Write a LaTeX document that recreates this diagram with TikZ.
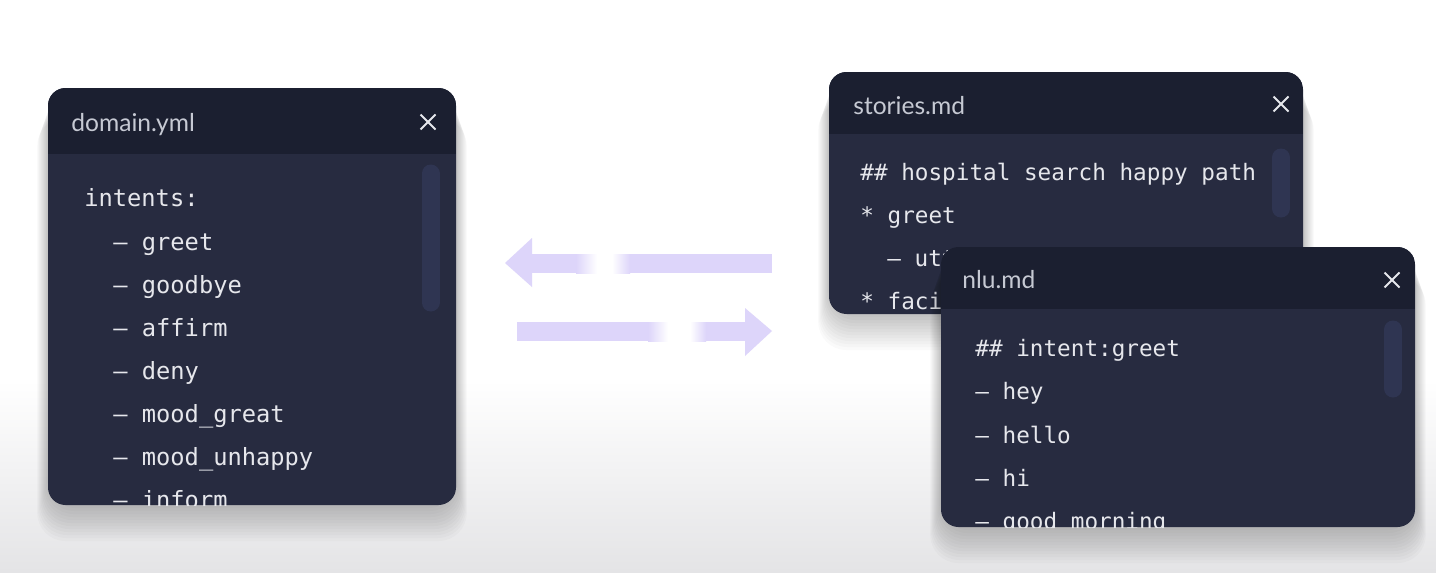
\documentclass[tikz,border=0pt]{standalone}
\usepackage{fontspec}
\newfontfamily\titlefont{Lato}
\newfontfamily\codefont{DejaVu Sans Mono}
\definecolor{hdr}{HTML}{1B1F30}
\definecolor{bodyc}{HTML}{272B40}
\definecolor{scrollc}{HTML}{2F3552}
\definecolor{ttl}{HTML}{C6C9D3}
\definecolor{codec}{HTML}{E6E7EC}
\definecolor{arr}{HTML}{DDD5FA}
\definecolor{bggray}{HTML}{E4E4E6}
\newcommand\drawwin[5]{%
  \foreach \i in {1,...,12} \fill[black, opacity=0.018, rounded corners=16] (#1-\i*0.9, #2+\i*2.5) rectangle (#3+\i*0.9, #4+\i*3);
  \fill[bodyc, rounded corners=10] (#1,#2) rectangle (#3,#4);
  \begin{scope}
    \clip[rounded corners=10] (#1,#2) rectangle (#3,#4);
    \fill[hdr] (#1,#2) rectangle (#3,#5);
  \end{scope}
}
\newcommand\closex[2]{%
  \draw[xmark] (#1-7.5,#2-7.5) -- (#1+7.5,#2+7.5);
  \draw[xmark] (#1-7.5,#2+7.5) -- (#1+7.5,#2-7.5);
}
\newcommand\scrollbar[3]{% x center, y top, y bottom
  \draw[draw=scrollc, line width=0.36cm, line cap=round] (#1,#2+9.5) -- (#1,#3-9.5);
}
\tikzset{
  title/.style={font=\titlefont\fontsize{14}{16}\selectfont, text=ttl, anchor=base west, inner sep=0},
  codeA/.style={font=\codefont\fontsize{13.5}{16}\selectfont, text=codec, anchor=base west, inner sep=0},
  codeB/.style={font=\codefont\fontsize{12.9}{16}\selectfont, text=codec, anchor=base west, inner sep=0},
  xmark/.style={draw=codec, line width=1.1pt},
}
\begin{document}
\begin{tikzpicture}[x=0.02cm,y=-0.02cm]
\useasboundingbox (0,0) rectangle (1436,572);
\fill[white] (0,0) rectangle (1436,572);
\shade[top color=white, bottom color=bggray] (0,380) rectangle (1436,572);

% arrows
\fill[arr] (505,263) -- (532,238) -- (532,287) -- cycle;
\fill[arr] (531,254) rectangle (576,273);
\shade[left color=arr, right color=white] (576,254) rectangle (597,273);
\shade[left color=white, right color=arr] (612,254) rectangle (630,273);
\fill[arr] (630,254) rectangle (772,273);

\fill[arr] (517,322) rectangle (648,341);
\shade[left color=arr, right color=white] (648,322) rectangle (668,341);
\shade[left color=white, right color=arr] (690,322) rectangle (706,341);
\fill[arr] (706,322) rectangle (746,341);
\fill[arr] (745,308) -- (772,331) -- (745,356) -- cycle;

% domain.yml
\drawwin{48}{88}{456}{505}{154}
\node[title] (dt) at (71,131) {domain.yml};
\closex{428}{122}
\scrollbar{430.5}{164}{312}
\begin{scope}
\clip[rounded corners=10] (48,154) rectangle (456,505);
\node[codeA] (d0) at (84,206) {intents:};
\node[codeA] (d1) at (113,250) {– greet};
\node[codeA] (d2) at (113,293) {– goodbye};
\node[codeA] (d3) at (113,336) {– affirm};
\node[codeA] (d4) at (113,379) {– deny};
\node[codeA] (d5) at (113,422) {– mood\_great};
\node[codeA] (d6) at (113,465) {– mood\_unhappy};
\node[codeA] (d7) at (113,508) {– inform};
\end{scope}

% stories.md
\drawwin{829}{72}{1303}{314}{134}
\node[title] (st) at (853,114) {stories.md};
\closex{1281}{104}
\scrollbar{1281}{148}{218}
\begin{scope}
\clip[rounded corners=10] (829,134) rectangle (1303,314);
\node[codeB] (s0) at (860,180) {\#\# hospital search happy path};
\node[codeB] (s1) at (860,223) {* greet};
\node[codeB] (s2) at (887,266) {– utter\_how\_can\_i\_help};
\node[codeB] (s3) at (860,309) {* facility\_search};
\end{scope}

% nlu.md
\drawwin{941}{247}{1415}{527}{309}
\node[title] (nt) at (962,288) {nlu.md};
\closex{1392}{280}
\scrollbar{1393}{320}{398}
\begin{scope}
\clip[rounded corners=10] (941,309) rectangle (1415,527);
\node[codeB] (n0) at (975,356) {\#\# intent:greet};
\node[codeB] (n1) at (975,399) {– hey};
\node[codeB] (n2) at (975,443) {– hello};
\node[codeB] (n3) at (975,486) {– hi};
\node[codeB] (n4) at (975,529) {– good morning};
\end{scope}
\end{tikzpicture}
\end{document}
